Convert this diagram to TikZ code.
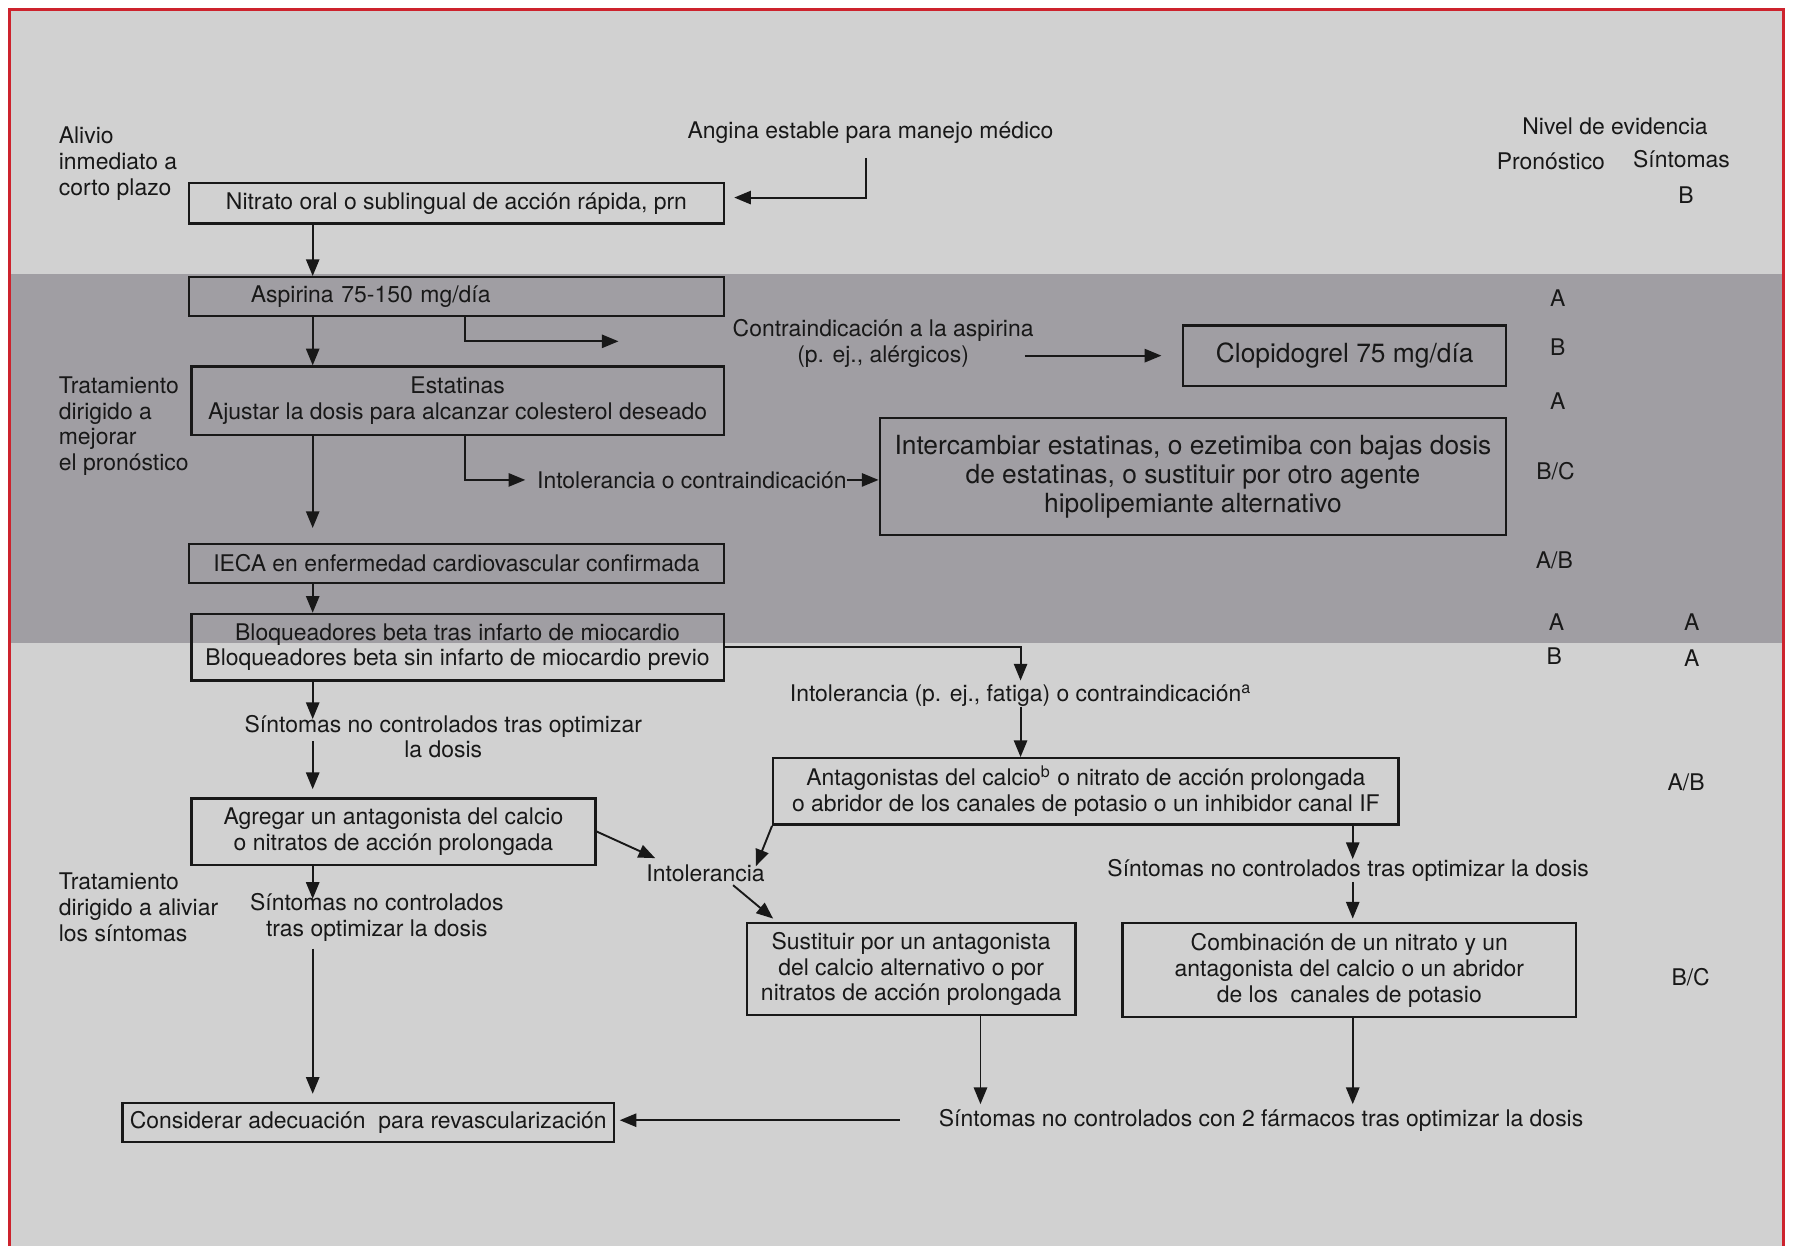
\documentclass[tikz,border=0pt]{standalone}
\usepackage{fontspec}
\setmainfont{TeX Gyre Heros}
\usetikzlibrary{arrows.meta,calc}

\definecolor{pagegray}{RGB}{209,209,209}
\definecolor{bandgray}{RGB}{160,158,163}
\definecolor{framered}{RGB}{205,35,45}
\definecolor{inkgray}{RGB}{24,24,24}

\newcommand{\regfont}{\fontsize{11.4}{12.8}\selectfont}
\newcommand{\bigfont}{\fontsize{13.1}{14.3}\selectfont}

\tikzset{
  box/.style={draw=inkgray, line width=1.2pt, inner sep=0pt, align=center,
    text=inkgray, font=\regfont},
  lbl/.style={inner sep=0pt, align=center, text=inkgray, font=\regfont},
  arr/.style={-{Triangle[length=8.3pt,width=6.6pt]}, line width=0.95pt, draw=inkgray},
}

\begin{document}
\begin{tikzpicture}[x=0.02cm, y=-0.02cm]
  \useasboundingbox (0,0) rectangle (1568,1088);
  % background and frame
  \fill[white] (0,0) rectangle (1568,1088);
  \fill[pagegray] (8,8) rectangle (1557,1088);
  \fill[bandgray] (8,239) rectangle (1557,561);
  \draw[framered, line width=1.4pt] (8,1088) -- (8,8) -- (1557,8) -- (1557,1088);

  % side labels
  \node[lbl, align=left, anchor=west] (l1) at (51,143) {Alivio\\inmediato a\\corto plazo};
  \node[lbl, align=left, anchor=west] (l2) at (51,372) {Tratamiento\\dirigido a\\mejorar\\el pronóstico};
  \node[lbl, align=left, anchor=west] (l3) at (51,792) {Tratamiento\\dirigido a aliviar\\los síntomas};

  % main column
  \node[lbl] (angina) at (760,116) {Angina estable para manejo médico};
  \node[box, minimum width=9.34cm, minimum height=0.70cm] (nit) at (398.5,177.5)
    {Nitrato oral o sublingual de acción rápida, prn};
  \node[box, minimum width=9.34cm, minimum height=0.68cm, text width=9.34cm, align=left] (asp) at (398.5,259)
    {\hspace*{1.08cm}Aspirina 75-150 mg/día};
  \node[box, minimum width=9.30cm, minimum height=1.20cm] (est) at (399.5,350)
    {Estatinas\\Ajustar la dosis para alcanzar colesterol deseado};
  \node[box, minimum width=9.34cm, minimum height=0.68cm] (ieca) at (398.5,492)
    {IECA en enfermedad cardiovascular confirmada};
  \node[box, minimum width=9.30cm, minimum height=1.16cm] (bloq) at (399.5,565)
    {Bloqueadores beta tras infarto de miocardio\\Bloqueadores beta sin infarto de miocardio previo};
  \node[lbl] (sint1) at (387,643) {Síntomas no controlados tras optimizar\\la dosis};
  \node[box, minimum width=7.06cm, minimum height=1.16cm] (agr) at (343.5,726)
    {Agregar un antagonista del calcio\\o nitratos de acción prolongada};
  \node[lbl] (sint2) at (329,801) {Síntomas no controlados\\tras optimizar la dosis};
  \node[box, minimum width=8.58cm, minimum height=0.68cm] (cons) at (321.5,980)
    {Considerar adecuación\ \ para revascularización};

  % branches
  \node[lbl] (contra) at (771,300) {Contraindicación a la aspirina\\(p. ej., alérgicos)};
  \node[box, font=\bigfont, minimum width=5.64cm, minimum height=1.06cm] (clop) at (1174,310.5)
    {Clopidogrel 75 mg/día};
  \node[lbl] (intol1) at (604,419) {Intolerancia o contraindicación};
  \node[box, font=\bigfont, minimum width=10.94cm, minimum height=2.04cm] (inter) at (1041.5,416)
    {Intercambiar estatinas, o ezetimiba con bajas dosis\\de estatinas, o sustituir por otro agente\\hipolipemiante alternativo};
  \node[lbl] (intol2) at (891,607) {Intolerancia (p. ej., fatiga) o contraindicación\textsuperscript{a}};
  \node[box, minimum width=10.92cm, minimum height=1.16cm] (antag) at (948,691)
    {Antagonistas del calcio\textsuperscript{b} o nitrato de acción prolongada\\o abridor de los canales de potasio o un inhibidor canal IF};
  \node[lbl] (intol3) at (616,762) {Intolerancia};
  \node[lbl] (sint3) at (1177,760) {Síntomas no controlados tras optimizar la dosis};
  \node[box, minimum width=5.74cm, minimum height=1.60cm] (sust) at (795.5,846)
    {Sustituir por un antagonista\\del calcio alternativo o por\\nitratos de acción prolongada};
  \node[box, minimum width=7.92cm, minimum height=1.64cm] (comb) at (1178,847)
    {Combinación de un nitrato y un\\antagonista del calcio o un abridor\\de los\ \ canales de potasio};
  \node[lbl] (sint4) at (1101,978) {Síntomas no controlados con 2 fármacos tras optimizar la dosis};

  % level of evidence
  \draw
    (1410,110) node[lbl] (nivel) {Nivel de evidencia}
    (1354,141) node[lbl] (pron) {Pronóstico}
    (1468,139) node[lbl] (sint) {Síntomas}
    (1472,170) node[lbl] (s0) {B}
    (1360,260) node[lbl] (p1) {A}
    (1360,303) node[lbl] (p2) {B}
    (1360,350) node[lbl] (p3) {A}
    (1358,411) node[lbl] (p4) {B/C}
    (1357,489) node[lbl] (p5) {A/B}
    (1359,543) node[lbl] (p6) {A}
    (1357,573) node[lbl] (p7) {B}
    (1477,543) node[lbl] (s1) {A}
    (1477,575) node[lbl] (s2) {A}
    (1472,683) node[lbl] (s3) {A/B}
    (1476,853) node[lbl] (s4) {B/C};

  % connectors
  \coordinate (sp) at (273,0);
  \coordinate (ab) at (406,0);
  \coordinate (ms) at (856,0);
  \coordinate (rs) at (1181,0);
  \coordinate (aend) at (540,298);
  \coordinate (cx) at ($(contra.east)+(-8,0)$);
  \draw[arr] ($(angina.south)+(-4,12)$) |- ($(nit.east)+(8,-5)$);
  \draw[arr] (nit.south -| sp) -- (asp.north -| sp);
  \draw[arr] (asp.south -| sp) -- (est.north -| sp);
  \draw[arr, shorten >=0.26cm] (est.south -| sp) -- (ieca.north -| sp);
  \draw[arr] (ieca.south -| sp) -- (bloq.north -| sp);
  \draw[arr, shorten >=-0.08cm] (bloq.south -| sp) -- (sint1.north -| sp);
  \draw[arr, shorten >=0.14cm] ($(sint1.south -| sp)+(0,-15)$) -- (agr.north -| sp);
  \draw[arr, shorten >=-0.1cm] (agr.south -| sp) -- (sint2.north -| sp);
  \draw[arr, shorten >=0.14cm] ($(sint2.south -| sp)+(0,6)$) -- (cons.north -| sp);
  \draw[arr] (asp.south -| ab) |- (aend);
  \draw[arr, shorten >=0.36cm] (cx |- clop.west) -- (clop.west);
  \draw[arr, shorten >=0.2cm] (est.south -| ab) |- (intol1.west);
  \draw[arr] (intol1.east) -- (intol1.east -| inter.west);
  \draw[arr, shorten >=0.06cm] (bloq.east) -| (intol2.north);
  \draw[arr] (intol2.south) -- (intol2.south |- antag.north);
  \draw[arr] (antag.south west) -- ($(intol3.north east)+(-8,2)$);
  \draw[arr] (agr.east) -- ($(intol3.north west)+(8,-5)$);
  \draw[arr] ($(intol3.south)+(24,3)$) -- ($(sust.north west)+(24,-3)$);
  \draw[arr] (antag.south -| rs) -- (sint3.north -| rs);
  \draw[arr, shorten >=0.06cm] (sint3.south -| rs) -- (comb.north -| rs);
  \draw[arr, shorten >=0.08cm] (sust.south -| ms) -- (sint4.north -| ms);
  \draw[arr, shorten >=0.08cm] (comb.south -| rs) -- (sint4.north -| rs);
  \draw[arr, shorten <=0.68cm, shorten >=0.08cm] (sint4.west) -- (sint4.west -| cons.east);
\end{tikzpicture}
\end{document}
